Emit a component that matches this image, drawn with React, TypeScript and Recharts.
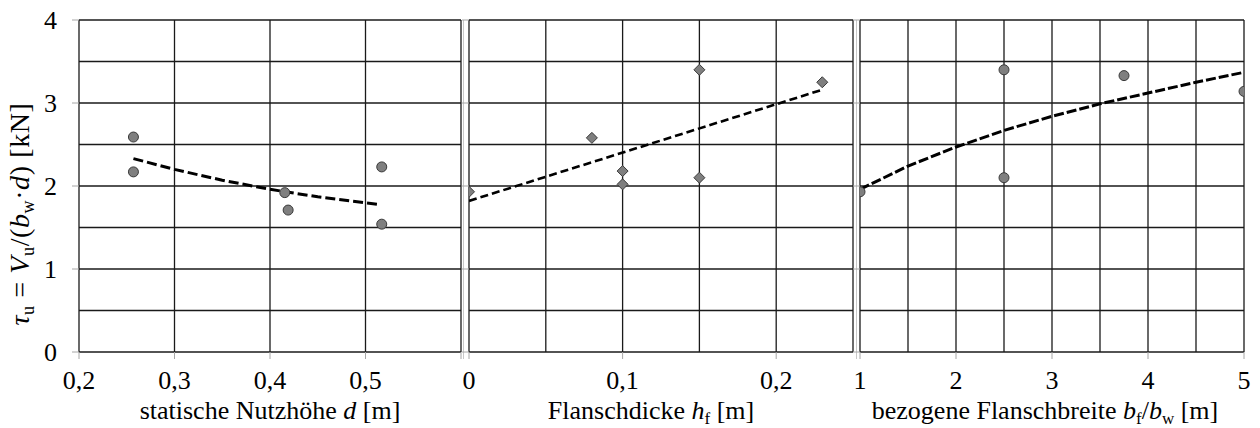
import { ScatterChart, Scatter, XAxis, YAxis, CartesianGrid } from 'recharts';

// shared y axis
const tauTicks = [0, 1, 2, 3, 4];
const tauGrid = [0, 0.5, 1, 1.5, 2, 2.5, 3, 3.5, 4];

// panel 1: statische Nutzhöhe d
const depthTicks = [0.2, 0.3, 0.4, 0.5, 0.6];
const depthTickLabels = ['0,2', '0,3', '0,4', '0,5', ''];
const depthX = [0.257, 0.257, 0.4155, 0.419, 0.517, 0.517];
const depthTau = [2.59, 2.17, 1.92, 1.71, 2.23, 1.54];
const depthFitX = [0.257, 0.3, 0.35, 0.4, 0.45, 0.512];
const depthFitTau = [2.33, 2.2, 2.07, 1.96, 1.87, 1.78];

// panel 2: Flanschdicke hf
const flangeTicks = [0, 0.1, 0.2];
const flangeTickLabels = ['0', '0,1', '0,2'];
const flangeGrid = [0, 0.05, 0.1, 0.15, 0.2, 0.25];
const flangeX = [0, 0.08, 0.1, 0.1, 0.15, 0.15, 0.23];
const flangeTau = [1.93, 2.58, 2.18, 2.02, 3.4, 2.1, 3.25];
const flangeFitX = [0, 0.23];
const flangeFitTau = [1.82, 3.16];

// panel 3: bezogene Flanschbreite bf/bw
const ratioTicks = [1, 2, 3, 4, 5];
const ratioGrid = [1, 1.5, 2, 2.5, 3, 3.5, 4, 4.5, 5];
const ratioX = [1, 2.5, 2.5, 3.75, 5];
const ratioTau = [1.93, 3.4, 2.1, 3.33, 3.14];
const ratioFitX = [1, 1.5, 2, 2.5, 3, 3.5, 4, 4.5, 5];
const ratioFitTau = [1.96, 2.24, 2.47, 2.67, 2.84, 2.99, 3.12, 3.25, 3.37];

const zip = (xs: number[], ys: number[]) => xs.map((x, i) => ({ x, y: ys[i] }));

// no serif face in the sandbox, so this falls through to Liberation Sans
const FONT = '"Liberation Serif", "Times New Roman", Times, "Liberation Sans", serif';
const GRID = '#1a1a1a';
const TICK = '#a6a6a6';
const H = 428;

const Dot = (props: any) => (
  <circle cx={props.cx} cy={props.cy} r={5} fill="#7f7f7f" stroke="#3a3a3a" strokeWidth={1} />
);

const Diamond = (props: any) => {
  const { cx, cy } = props;
  const s = 5.5;
  return (
    <polygon
      points={`${cx},${cy - s} ${cx + s},${cy} ${cx},${cy + s} ${cx - s},${cy}`}
      fill="#7f7f7f"
      stroke="#3a3a3a"
      strokeWidth={1}
    />
  );
};

const NoShape = () => <g />;

const sub = 5;

const xTitle = (parts: React.ReactNode, dx: number) => (props: any) => {
  const vb = props.viewBox;
  return (
    <text
      x={vb.x + vb.width / 2 + dx}
      y={vb.y + 67}
      textAnchor="middle"
      style={{ fontFamily: FONT }}
      fontSize={26}
      fill="#000"
    >
      {parts}
    </text>
  );
};

const yTitle = (props: any) => {
  const vb = props.viewBox;
  const x = vb.x + 29;
  const y = 214;
  return (
    <text
      x={x}
      y={y}
      transform={`rotate(-90, ${x}, ${y})`}
      textAnchor="middle"
      style={{ fontFamily: FONT, letterSpacing: 0.6 }}
      fontSize={28}
      fill="#000"
    >
      <tspan fontStyle="italic">τ</tspan>
      <tspan fontSize={18} dy={sub}>u</tspan>
      <tspan dy={-sub}> = </tspan>
      <tspan fontStyle="italic">V</tspan>
      <tspan fontSize={18} dy={sub}>u</tspan>
      <tspan dy={-sub}>/(</tspan>
      <tspan fontStyle="italic">b</tspan>
      <tspan fontSize={18} dy={sub}>w</tspan>
      <tspan dy={-sub}>·</tspan>
      <tspan fontStyle="italic">d</tspan>
      <tspan>) [kN]</tspan>
    </text>
  );
};

const tickFont = { fontSize: 26, fontFamily: FONT, fill: '#000', style: { fontFamily: FONT } };

export default function App() {
  return (
    <div
      style={{
        position: 'absolute',
        left: 0,
        top: 0,
        width: 1260,
        height: H,
        background: '#fff',
        fontFamily: FONT,
      }}
    >
      {/* panel 1 */}
      <div style={{ position: 'absolute', left: 0, top: 0 }}>
        <ScatterChart width={465} height={H} margin={{ top: 20, right: 4, left: 0, bottom: 0 }}>
          <CartesianGrid stroke={GRID} strokeWidth={1.3} horizontalValues={tauGrid} verticalValues={depthTicks} />
          <XAxis
            type="number"
            dataKey="x"
            domain={[0.2, 0.6]}
            ticks={depthTicks}
            tickFormatter={(v: number) => depthTickLabels[depthTicks.indexOf(v)] ?? ''}
            height={76}
            axisLine={false}
            tickLine={{ stroke: TICK }}
            tickSize={7}
            tickMargin={12}
            tick={tickFont}
            interval={0}
            allowDataOverflow
            label={{
              content: xTitle(
                <>
                  statische Nutzhöhe <tspan fontStyle="italic">d</tspan> [m]
                </>,
                0
              ),
            }}
          />
          <YAxis
            type="number"
            dataKey="y"
            domain={[0, 4]}
            ticks={tauTicks}
            width={79}
            axisLine={false}
            tickLine={{ stroke: TICK }}
            tickSize={7}
            tickMargin={15}
            tick={tickFont}
            interval={0}
            label={{ content: yTitle }}
          />
          <Scatter
            data={zip(depthFitX, depthFitTau)}
            line={{ stroke: '#000', strokeWidth: 3, strokeDasharray: '10 4' }}
            shape={NoShape}
            isAnimationActive={false}
          />
          <Scatter data={zip(depthX, depthTau)} shape={Dot} isAnimationActive={false} />
        </ScatterChart>
      </div>

      {/* gap separators */}
      <div style={{ position: 'absolute', left: 463, top: 20, width: 1, height: 339, background: '#c8c8c8' }} />
      <div style={{ position: 'absolute', left: 856, top: 20, width: 1, height: 339, background: '#c8c8c8' }} />

      {/* panel 2 */}
      <div style={{ position: 'absolute', left: 462, top: 0 }}>
        <ScatterChart width={394} height={H} margin={{ top: 20, right: 3, left: 0, bottom: 0 }}>
          <CartesianGrid stroke={GRID} strokeWidth={1.3} horizontalValues={tauGrid} verticalValues={flangeGrid} />
          <XAxis
            type="number"
            dataKey="x"
            domain={[0, 0.25]}
            ticks={flangeTicks}
            tickFormatter={(v: number) => flangeTickLabels[flangeTicks.indexOf(v)] ?? ''}
            height={76}
            axisLine={false}
            tickLine={{ stroke: TICK }}
            tickSize={7}
            tickMargin={12}
            tick={tickFont}
            interval={0}
            allowDataOverflow
            label={{
              content: xTitle(
                <>
                  Flanschdicke <tspan fontStyle="italic">h</tspan>
                  <tspan fontSize={17} dy={sub}>f</tspan>
                  <tspan dy={-sub}> [m]</tspan>
                </>,
                -10
              ),
            }}
          />
          <YAxis
            type="number"
            dataKey="y"
            domain={[0, 4]}
            ticks={tauTicks}
            width={7}
            axisLine={false}
            tickLine={{ stroke: TICK }}
            tickSize={7}
            tickFormatter={() => ''}
            interval={0}
          />
          <Scatter
            data={zip(flangeFitX, flangeFitTau)}
            line={{ stroke: '#000', strokeWidth: 2.6, strokeDasharray: '8 4' }}
            shape={NoShape}
            isAnimationActive={false}
          />
          <Scatter data={zip(flangeX, flangeTau)} shape={Diamond} isAnimationActive={false} />
        </ScatterChart>
      </div>

      {/* panel 3 */}
      <div style={{ position: 'absolute', left: 853, top: 0 }}>
        <ScatterChart width={407} height={H} margin={{ top: 20, right: 16, left: 0, bottom: 0 }}>
          <CartesianGrid stroke={GRID} strokeWidth={1.3} horizontalValues={tauGrid} verticalValues={ratioGrid} />
          <XAxis
            type="number"
            dataKey="x"
            domain={[1, 5]}
            ticks={ratioTicks}
            height={76}
            axisLine={false}
            tickLine={{ stroke: TICK }}
            tickSize={7}
            tickMargin={12}
            tick={tickFont}
            interval={0}
            allowDataOverflow
            label={{
              content: xTitle(
                <>
                  bezogene Flanschbreite <tspan fontStyle="italic">b</tspan>
                  <tspan fontSize={17} dy={sub}>f</tspan>
                  <tspan dy={-sub}>/</tspan>
                  <tspan fontStyle="italic">b</tspan>
                  <tspan fontSize={17} dy={sub}>w</tspan>
                  <tspan dy={-sub}> [m]</tspan>
                </>,
                -7
              ),
            }}
          />
          <YAxis
            type="number"
            dataKey="y"
            domain={[0, 4]}
            ticks={tauTicks}
            width={7}
            axisLine={false}
            tickLine={{ stroke: TICK }}
            tickSize={7}
            tickFormatter={() => ''}
            interval={0}
          />
          <Scatter
            data={zip(ratioFitX, ratioFitTau)}
            line={{ stroke: '#000', strokeWidth: 3, strokeDasharray: '10 3' }}
            shape={NoShape}
            isAnimationActive={false}
          />
          <Scatter data={zip(ratioX, ratioTau)} shape={Dot} isAnimationActive={false} />
        </ScatterChart>
      </div>
    </div>
  );
}
